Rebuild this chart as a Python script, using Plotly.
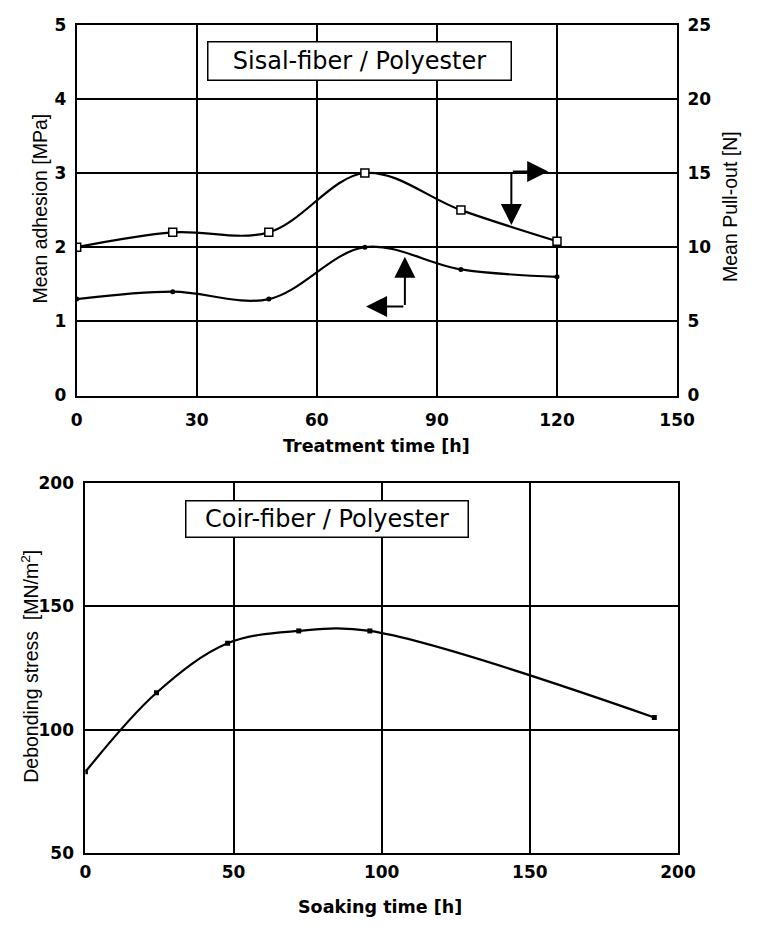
import plotly.graph_objects as go

# Sisal-fiber / polyester: adhesion and pull-out force vs. treatment time
treat_h = [0, 24, 48, 72, 96, 120]
adhesion_mpa = [1.3, 1.4, 1.3, 2.0, 1.7, 1.6]
pullout_n = [10.0, 11.0, 11.0, 15.0, 12.5, 10.4]

# Coir-fiber / polyester: debonding stress vs. soaking time
soak_h = [0, 24, 48, 72, 96, 192]
debond_mnm2 = [83, 115, 135, 140, 140, 105]

top_x_ticks = [0, 30, 60, 90, 120, 150]
top_yl_ticks = [0, 1, 2, 3, 4, 5]
top_yr_ticks = [0, 5, 10, 15, 20, 25]
bot_x_ticks = [0, 50, 100, 150, 200]
bot_y_ticks = [50, 100, 150, 200]

W, H = 758, 928
TICK_FONT = dict(family="DejaVu Sans", size=17, color="black", weight="bold")
ROT_FONT = dict(family="Liberation Sans", size=19.5, color="black")
XT_FONT = dict(family="DejaVu Sans", size=17.5, color="black", weight="bold")
BOX_FONT = dict(family="DejaVu Sans", size=24, color="black")


def px(x):
    return x / W


def py(y):
    return 1 - y / H


fig = go.Figure()

line_style = dict(color="black", width=2.2, shape="spline", smoothing=1.0)

fig.add_trace(go.Scatter(
    x=treat_h, y=adhesion_mpa, mode="lines+markers",
    line=line_style,
    marker=dict(symbol="circle", size=5, color="black"),
    xaxis="x", yaxis="y", showlegend=False,
))
fig.add_trace(go.Scatter(
    x=treat_h, y=pullout_n, mode="lines+markers",
    line=line_style,
    marker=dict(symbol="square", size=8, color="white",
                line=dict(color="black", width=1.5)),
    xaxis="x", yaxis="y2", showlegend=False,
))
fig.add_trace(go.Scatter(
    x=soak_h, y=debond_mnm2, mode="lines+markers",
    line=line_style,
    marker=dict(symbol="square", size=5, color="black"),
    xaxis="x2", yaxis="y3", showlegend=False,
))

axis_common = dict(
    showline=True, linecolor="black", linewidth=2, mirror=True,
    showgrid=True, gridcolor="black", zeroline=False,
    ticks="", tickfont=TICK_FONT, fixedrange=True,
)

top_dom_x = [px(73), px(693)]
top_dom_y = [py(394), py(15)]
bot_dom_x = [px(82), px(694)]
bot_dom_y = [py(862), py(483)]

fig.update_layout(
    width=W, height=H,
    margin=dict(l=0, r=0, t=0, b=0),
    paper_bgcolor="white", plot_bgcolor="white",
    xaxis=dict(axis_common, domain=top_dom_x, anchor="y", range=[0, 150],
               tickvals=top_x_ticks, gridwidth=2, ticklabelstandoff=8),
    yaxis=dict(axis_common, domain=top_dom_y, anchor="x", range=[0, 5],
               tickvals=top_yl_ticks, gridwidth=1.5, ticklabelstandoff=5),
    yaxis2=dict(axis_common, anchor="x", overlaying="y", side="right",
                range=[0, 25], tickvals=top_yr_ticks, showgrid=False,
                mirror=False, ticklabelstandoff=5),
    xaxis2=dict(axis_common, domain=bot_dom_x, anchor="y3", range=[0, 200],
                tickvals=bot_x_ticks, gridwidth=2, ticklabelstandoff=2),
    yaxis3=dict(axis_common, domain=bot_dom_y, anchor="x2", range=[50, 200],
                tickvals=bot_y_ticks, gridwidth=1.5, ticklabelstandoff=6),
)

annotations = []

# Panel labels in framed boxes
annotations.append(dict(
    text="Sisal-fiber / Polyester", xref="paper", yref="paper",
    x=px(365), y=py(52.5), xanchor="center", yanchor="middle",
    showarrow=False, font=BOX_FONT, bgcolor="white",
    bordercolor="black", borderwidth=1.5, borderpad=0, width=302, height=37,
))
annotations.append(dict(
    text="Coir-fiber / Polyester", xref="paper", yref="paper",
    x=px(331.5), y=py(520.5), xanchor="center", yanchor="middle",
    showarrow=False, font=BOX_FONT, bgcolor="white",
    bordercolor="black", borderwidth=1.5, borderpad=0, width=281, height=35,
))

# Axis titles
annotations += [
    dict(text="Treatment time [h]", xref="paper", yref="paper",
         x=px(383), y=py(446), xanchor="center", yanchor="middle",
         showarrow=False, font=XT_FONT),
    dict(text="Soaking time [h]", xref="paper", yref="paper",
         x=px(386), y=py(917), xanchor="center", yanchor="middle",
         showarrow=False, font=XT_FONT),
    dict(text="Mean adhesion [MPa]", xref="paper", yref="paper",
         x=px(35), y=py(203), xanchor="center", yanchor="middle",
         textangle=-90, showarrow=False, font=ROT_FONT),
    dict(text="Mean Pull-out [N]", xref="paper", yref="paper",
         x=px(747), y=py(201), xanchor="center", yanchor="middle",
         textangle=-90, showarrow=False, font=ROT_FONT),
    dict(text="Debonding stress  [MN/m<sup>2</sup>]", xref="paper", yref="paper",
         x=px(24), y=py(671), xanchor="center", yanchor="middle",
         textangle=-90, showarrow=False, font=ROT_FONT),
]

# L-shaped pointers telling which axis each curve belongs to
pointer_arrows = [
    # (corner x, corner y, tip x, tip y)
    (108.6, 3.02, 108.6, 2.30),
    (108.6, 3.02, 117.8, 3.02),
    (82.0, 1.20, 82.0, 1.87),
    (82.0, 1.20, 72.3, 1.20),
]
for cx, cy, tx, ty in pointer_arrows:
    annotations.append(dict(
        x=tx, y=ty, ax=cx, ay=cy, xref="x", yref="y", axref="x", ayref="y",
        text="", showarrow=True, arrowhead=2, arrowsize=2.1, arrowwidth=2,
        arrowcolor="black", standoff=0, startstandoff=0,
    ))

fig.update_layout(annotations=annotations)

fig.write_html("out.html")
